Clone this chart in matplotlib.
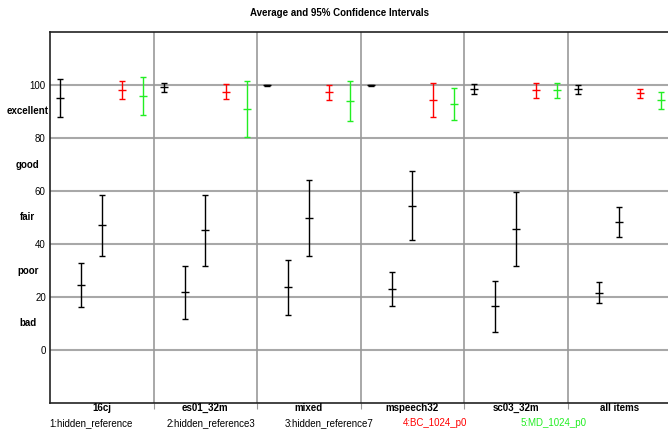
import matplotlib
matplotlib.use("Agg")
import matplotlib.pyplot as plt
import numpy as np

plt.rcParams['font.family'] = ['Liberation Sans', 'DejaVu Sans']

# ---- data ----
groups = ['16cj', 'es01_32m', 'mixed', 'mspeech32', 'sc03_32m', 'all items']
systems = ['1:hidden_reference', '2:hidden_reference3', '3:hidden_reference7',
           '4:BC_1024_p0', '5:MD_1024_p0']
colors = ['black', 'black', 'black', '#ff0000', '#22ee22']

# mean, lower, upper for each system per group
ref1_mean = [95.2, 99.1, 100.0, 99.9, 98.4, 98.4]
ref1_low = [88.0, 97.5, 99.8, 99.7, 96.5, 96.7]
ref1_high = [102.4, 100.8, 100.1, 100.1, 100.3, 100.1]

ref3_mean = [24.5, 21.8, 23.6, 23.0, 16.6, 21.5]
ref3_low = [16.3, 11.7, 13.3, 16.6, 6.9, 17.7]
ref3_high = [32.7, 31.7, 33.9, 29.4, 26.2, 25.5]

ref7_mean = [47.1, 45.1, 49.9, 54.5, 45.8, 48.2]
ref7_low = [35.5, 31.6, 35.6, 41.6, 31.8, 42.5]
ref7_high = [58.5, 58.6, 64.1, 67.7, 59.8, 53.9]

bc_mean = [98.1, 97.5, 97.2, 94.5, 98.0, 97.0]
bc_low = [94.6, 94.6, 94.2, 88.0, 95.2, 95.2]
bc_high = [101.4, 100.5, 99.9, 100.8, 100.8, 98.5]

md_mean = [95.7, 91.0, 93.9, 93.0, 98.0, 94.4]
md_low = [88.5, 80.5, 86.6, 86.9, 95.2, 91.0]
md_high = [102.9, 101.5, 101.4, 98.9, 100.8, 97.3]

series = [(ref1_mean, ref1_low, ref1_high),
          (ref3_mean, ref3_low, ref3_high),
          (ref7_mean, ref7_low, ref7_high),
          (bc_mean, bc_low, bc_high),
          (md_mean, md_low, md_high)]

yticks = [0, 20, 40, 60, 80, 100]
quality = ['bad', 'poor', 'fair', 'good', 'excellent']

fig = plt.figure(figsize=(6.68, 4.33), dpi=100)
ax = fig.add_axes([50 / 668, 1 - 403 / 433, 621 / 668, 371 / 433])

ax.set_xlim(0, len(groups))
ax.set_ylim(-20, 120)

for y in yticks:
    ax.axhline(y, color='#a8a8a8', lw=1.5, zorder=0)
for g in range(1, len(groups)):
    ax.axvline(g, color='#999999', lw=1.2, zorder=0)

n = len(systems)
for i, (m, lo, hi) in enumerate(series):
    x = np.arange(len(groups)) + (i + 0.5) / n
    m = np.array(m)
    err = [m - np.array(lo), np.array(hi) - m]
    ax.errorbar(x, m, yerr=err, fmt='_', color=colors[i], ecolor=colors[i],
                markersize=6, markeredgewidth=1.0, elinewidth=1.0,
                capsize=2.2, capthick=1.0, zorder=3)

# axes styling
for s in ['left', 'bottom', 'top']:
    ax.spines[s].set_color('#222222')
    ax.spines[s].set_linewidth(1.2)
ax.spines['right'].set_visible(False)

ax.set_yticks(yticks)
ax.set_yticklabels([str(v) for v in yticks], fontsize=7)
ax.tick_params(axis='y', length=0, pad=3)

ax.set_xticks(np.arange(1, len(groups)))
ax.set_xticklabels([])
ax.tick_params(axis='x', length=4, color='#999999', direction='out')
for g, name in enumerate(groups):
    fig.text((50 + 103.5 * (g + 0.5)) / 668, 1 - 411 / 433, name,
             ha='center', va='baseline', fontsize=7, fontweight='bold')

for k, q in enumerate(quality):
    ax.text(-0.215, 10 + 20 * k, q, ha='center', va='center', fontsize=7,
            fontweight='bold', transform=ax.transData)

for i, name in enumerate(systems):
    fig.text((49 + 117.8 * i) / 668, 1 - 426 / 433, name, ha='left',
             va='baseline', fontsize=7, color=colors[i])

fig.text(340 / 668, 1 - 13 / 433, 'Average and 95% Confidence Intervals',
         ha='center', va='center', fontsize=7, fontweight='bold')

fig.savefig('out.png', dpi=100)
